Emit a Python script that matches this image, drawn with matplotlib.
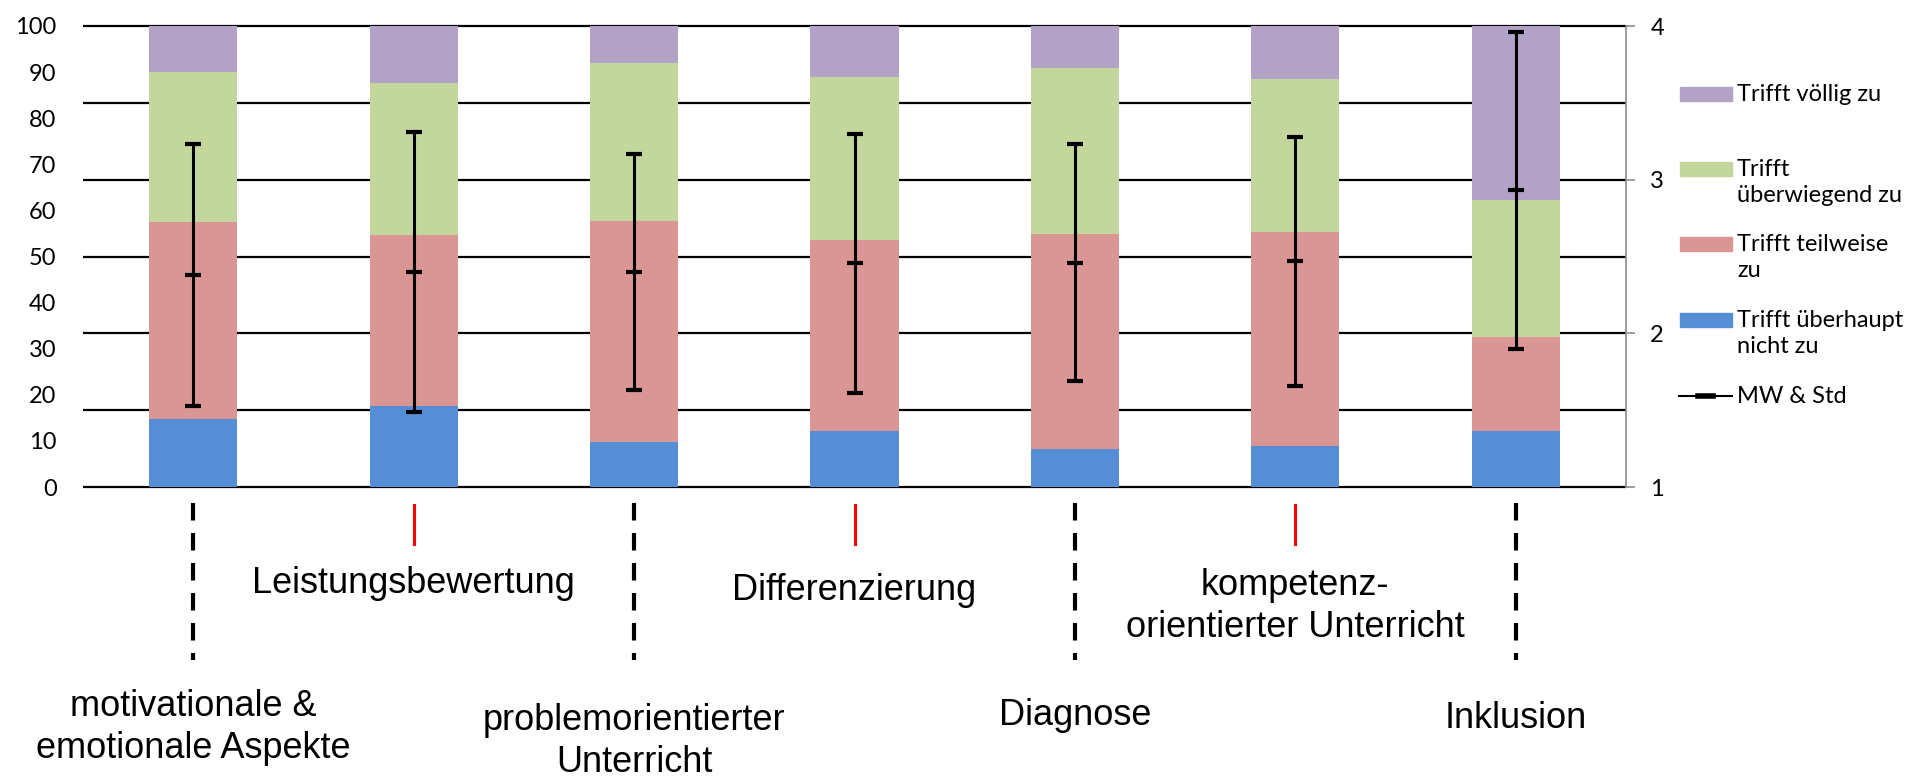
import numpy as np
import matplotlib.pyplot as plt
from matplotlib.patches import Rectangle
from matplotlib.lines import Line2D
import matplotlib.transforms as mtransforms

# categories (x axis, written below the chart)
categories = ["motivationale &\nemotionale Aspekte", "Leistungsbewertung",
              "problemorientierter\nUnterricht", "Differenzierung", "Diagnose",
              "kompetenz-\norientierter Unterricht", "Inklusion"]

# answer shares in percent (left axis)
nicht_zu = [14.8, 17.6, 9.8, 12.2, 8.2, 8.9, 12.1]
teilweise = [42.7, 37.1, 47.9, 41.4, 46.7, 46.5, 20.5]
ueberwiegend = [32.5, 32.9, 34.3, 35.3, 36.0, 33.0, 29.7]
voellig = [10.0, 12.4, 8.0, 11.1, 9.1, 11.6, 37.7]

# mean and standard deviation on the 1..4 scale (right axis)
mw = [2.38, 2.40, 2.40, 2.455, 2.46, 2.47, 2.93]
std = [0.85, 0.91, 0.77, 0.845, 0.77, 0.81, 1.03]

series_labels = ["Trifft überhaupt\nnicht zu", "Trifft teilweise\nzu",
                 "Trifft\nüberwiegend zu", "Trifft völlig zu"]
colors = ["#558ED5", "#D99694", "#C3D69B", "#B3A2C7"]

W, H = 1917, 779
fig = plt.figure(figsize=(W / 100, H / 100), dpi=100)
ax = fig.add_axes([83 / W, 1 - 487 / H, (1626 - 83) / W, (487 - 26) / H])

x = np.arange(len(categories))
bottom = np.zeros(len(categories))
for vals, col in zip([nicht_zu, teilweise, ueberwiegend, voellig], colors):
    ax.bar(x, vals, width=0.4, bottom=bottom, color=col, zorder=2)
    bottom += np.array(vals)

ax.set_xlim(-0.5, len(categories) - 0.5)
ax.set_ylim(0, 100)
ax.set_xticks([])
ax.set_yticks(np.arange(0, 101, 10))
# gridlines follow the right axis (every 0.5 on 1..4)
ax.hlines(np.linspace(0, 100, 7), -0.5, len(categories) - 0.5, color="black",
          lw=1.6, zorder=1, clip_on=False)
ax.tick_params(axis="y", length=0, pad=19, labelsize=17)
for s in ax.spines.values():
    s.set_visible(False)
for lab in ax.get_yticklabels():
    lab.set_family("Lato")

ax2 = ax.twinx()
ax2.set_ylim(1, 4)
ax2.set_yticks([1, 2, 3, 4])
ax2.tick_params(axis="y", length=6.5, width=1.2, color="#8c8c8c", pad=11, labelsize=17)
for lab in ax2.get_yticklabels():
    lab.set_family("Lato")
for k in ["left", "top", "bottom"]:
    ax2.spines[k].set_visible(False)
ax2.spines["right"].set_color("#8c8c8c")
ax2.spines["right"].set_linewidth(1.2)

ax2.errorbar(x, mw, yerr=std, fmt="_", color="black", ms=11.5, mew=3,
             elinewidth=2.2, capsize=5.8, capthick=3, zorder=5)

# markers and labels below the chart
trans = mtransforms.blended_transform_factory(ax.transData, fig.transFigure)
label_base = [758, 593, 772, 600, 725, 637, 728]  # baseline of last line, px
for i, name in enumerate(categories):
    if i % 2 == 0:
        ax.plot([i, i], [1 - 503 / H, 1 - 660 / H], transform=trans, clip_on=False,
                color="black", lw=3, linestyle=(0, (4.2, 3.0)))
    else:
        ax.plot([i, i], [1 - 505 / H, 1 - 544 / H], transform=trans, clip_on=False,
                color="#ff0000", lw=2.2)
    ax.text(i, 1 - label_base[i] / H, name, transform=trans, ha="center",
            va="baseline", fontsize=26, family="Liberation Sans",
            linespacing=1.25, multialignment="center")

# legend
leg_y = [94, 169, 244, 320]
for yy, lab, col in zip(leg_y, series_labels[::-1], colors[::-1]):
    fig.add_artist(Rectangle((1680 / W, 1 - (yy + 7) / H), 52 / W, 14 / H,
                             transform=fig.transFigure, color=col))
    fig.text(1737 / W, 1 - (yy - 10) / H, lab, ha="left", va="top",
             fontsize=17, family="Lato", linespacing=1.3)
fig.add_artist(Line2D([1679 / W, 1732 / W], [1 - 396 / H, 1 - 396 / H],
                      transform=fig.transFigure, color="black", lw=1.5))
fig.add_artist(Line2D([1698 / W, 1713 / W], [1 - 396 / H, 1 - 396 / H],
                      transform=fig.transFigure, color="black", lw=4))
fig.text(1737 / W, 1 - 386 / H, "MW & Std", ha="left", va="top",
         fontsize=17, family="Lato")

fig.savefig("out.png", dpi=100)
